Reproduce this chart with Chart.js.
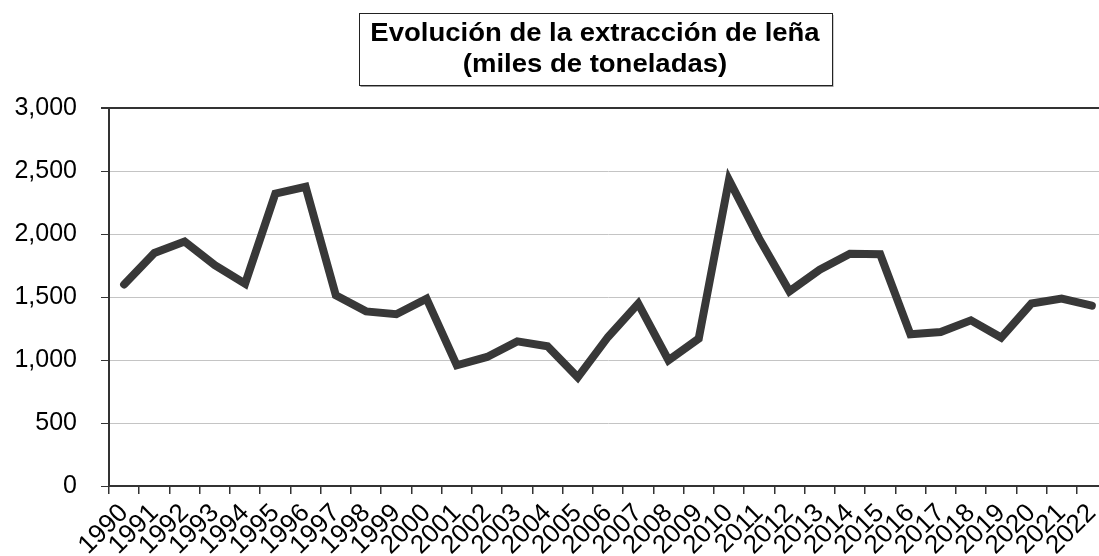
<!DOCTYPE html>
<html>
<head>
<meta charset="utf-8">
<script src="https://cdn.jsdelivr.net/npm/chart.js@4/dist/chart.umd.min.js"></script>
<style>
  body { margin: 0; background: #fff; }
  #wrap { width: 1099px; height: 556px; overflow: hidden; position: relative; }
  #leña { display: block; }
</style>
</head>
<body>
<div id="wrap"><canvas id="leña" width="1110" height="600" style="width:1110px;height:600px"></canvas></div>
<script>
  // datos (miles de toneladas)
  const years = ["1990","1991","1992","1993","1994","1995","1996","1997","1998","1999",
                 "2000","2001","2002","2003","2004","2005","2006","2007","2008","2009",
                 "2010","2011","2012","2013","2014","2015","2016","2017","2018","2019",
                 "2020","2021","2022"];
  const extraccion = [1600, 1850, 1940, 1752, 1606, 2320, 2375, 1513, 1386, 1363,
                      1487, 958, 1024, 1148, 1109, 862, 1183, 1448, 998, 1170,
                      2430, 1963, 1545, 1717, 1844, 1839, 1204, 1222, 1315, 1178,
                      1448, 1487, 1432];
  const yTicks = [0, 500, 1000, 1500, 2000, 2500, 3000];
  const titleLines = ["Evolución de la extracción de leña", "(miles de toneladas)"];

  const fontFam = '"Liberation Sans", Arial, sans-serif';

  // titulo con recuadro
  const titleBox = {
    id: "titleBox",
    afterDraw(chart) {
      const ctx = chart.ctx;
      const sx = 1.1;
      ctx.save();
      ctx.font = "bold 25px " + fontFam;
      let w = 0;
      titleLines.forEach(t => { w = Math.max(w, ctx.measureText(t).width * sx); });
      const cx = 595;
      const bw = Math.round(w + 24), top = 13, bh = 72;
      const left = Math.round(cx - bw / 2) + 0.5;
      ctx.fillStyle = "#9a9a9a";
      ctx.fillRect(left + 1, top + 2, bw, bh);
      ctx.fillStyle = "#fff";
      ctx.fillRect(left, top + 0.5, bw, bh);
      ctx.strokeStyle = "#222";
      ctx.lineWidth = 1;
      ctx.strokeRect(left, top + 0.5, bw, bh);
      ctx.fillStyle = "#000";
      ctx.textAlign = "center";
      ctx.textBaseline = "middle";
      ctx.translate(cx, 0);
      ctx.scale(sx, 1);
      ctx.fillText(titleLines[0], 0, 34);
      ctx.fillText(titleLines[1], 0, 65);
      ctx.restore();
    }
  };

  new Chart("leña", {
    type: "line",
    data: {
      labels: years,
      datasets: [{
        data: extraccion,
        borderColor: "#383838",
        borderWidth: 8,
        borderCapStyle: "round",
        borderJoinStyle: "miter",
        pointRadius: 0,
        tension: 0,
        fill: false
      }]
    },
    options: {
      responsive: false,
      animation: false,
      devicePixelRatio: 1,
      layout: { padding: { top: 108, right: 3, left: 0, bottom: 0 } },
      plugins: { legend: { display: false }, tooltip: { enabled: false }, title: { display: false } },
      scales: {
        x: {
          type: "category",
          offset: true,
          grid: {
            offset: true,
            drawOnChartArea: false,
            color: "#333",
            tickColor: "#333",
            tickLength: 8,
            lineWidth: 1.5
          },
          border: { display: true, color: "#333", width: 2 },
          ticks: {
            autoSkip: false,
            minRotation: 45,
            maxRotation: 45,
            padding: 4,
            color: "#000",
            font: { family: fontFam, size: 26 }
          },
          afterFit(scale) {
            scale.height = 114;
            scale.paddingLeft = 0;
            scale.paddingRight = 0;
          }
        },
        y: {
          min: 0,
          max: 3000,
          afterBuildTicks(scale) {
            scale.ticks = yTicks.map(v => ({ value: v }));
          },
          grid: {
            color: c => (c.tick && c.tick.value === 3000) ? "#333" : "#c4c4c4",
            lineWidth: c => (c.tick && c.tick.value === 3000) ? 2 : 1,
            tickColor: "#333",
            tickLength: 8
          },
          border: { display: true, color: "#333", width: 2 },
          ticks: {
            padding: 24,
            color: "#000",
            font: { family: fontFam, size: 25 },
            callback: v => v.toLocaleString("en-US")
          },
          afterFit(scale) {
            scale.width = 109;
          }
        }
      }
    },
    plugins: [titleBox]
  });
</script>
</body>
</html>
